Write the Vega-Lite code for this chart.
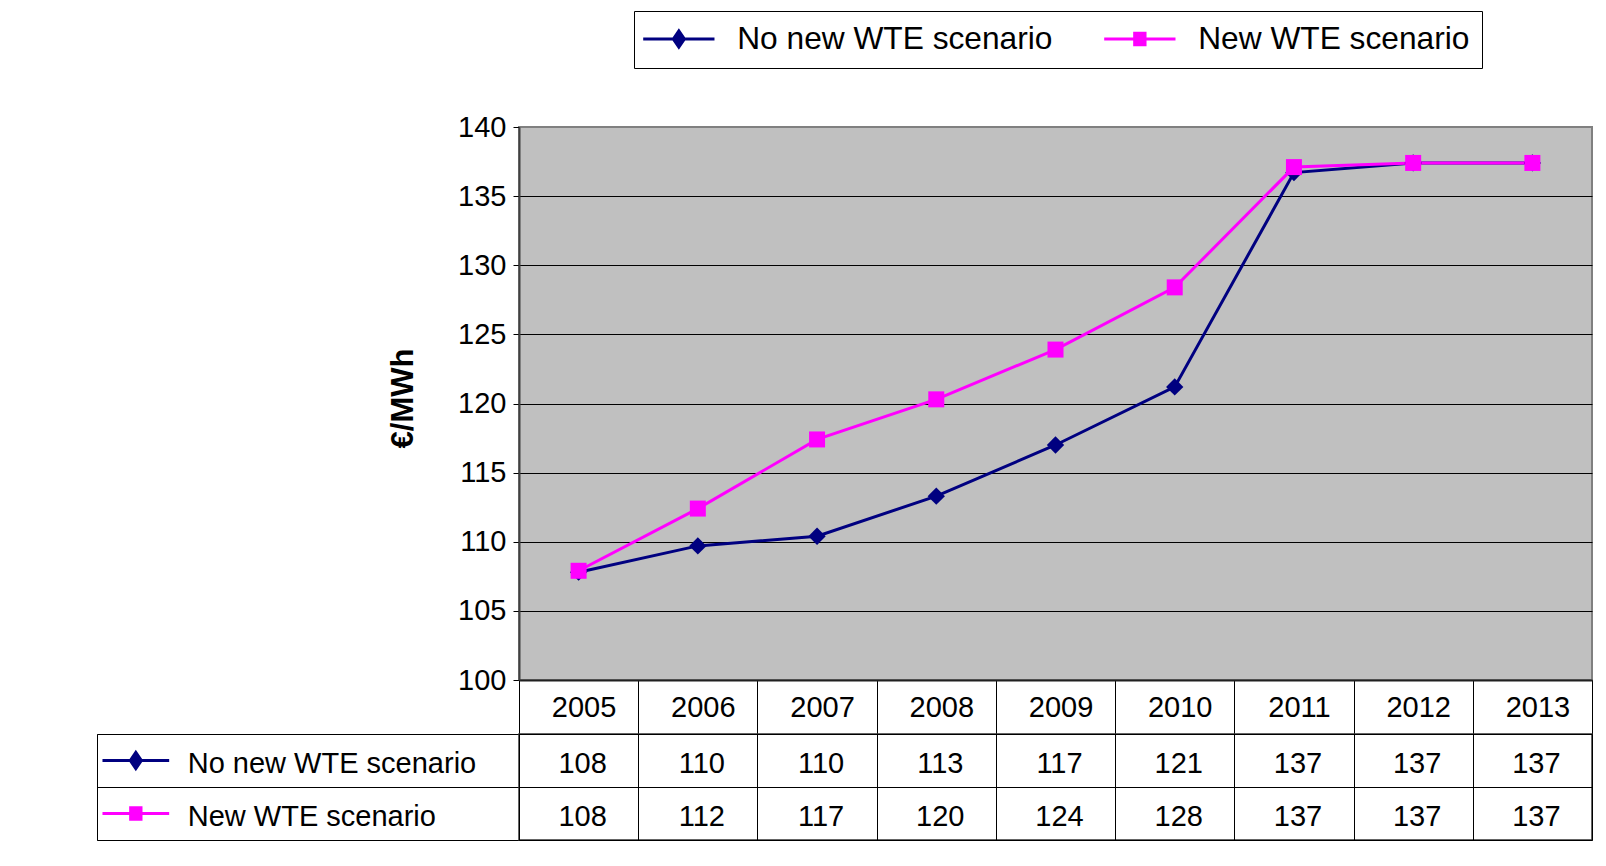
{
  "$schema": "https://vega.github.io/schema/vega-lite/v6.json",
  "background": "white",
  "padding": {"left": 95, "top": 9, "right": 0, "bottom": 0},
  "config": {"font": "Liberation Sans", "view": {"stroke": null}},
  "datasets": {
    "prices": [
      {"year": "2005", "series": "No new WTE scenario", "value": 107.8},
      {"year": "2006", "series": "No new WTE scenario", "value": 109.7},
      {"year": "2007", "series": "No new WTE scenario", "value": 110.4},
      {"year": "2008", "series": "No new WTE scenario", "value": 113.3},
      {"year": "2009", "series": "No new WTE scenario", "value": 117.0},
      {"year": "2010", "series": "No new WTE scenario", "value": 121.2},
      {"year": "2011", "series": "No new WTE scenario", "value": 136.7},
      {"year": "2012", "series": "No new WTE scenario", "value": 137.4},
      {"year": "2013", "series": "No new WTE scenario", "value": 137.4},
      {"year": "2005", "series": "New WTE scenario", "value": 107.9},
      {"year": "2006", "series": "New WTE scenario", "value": 112.4},
      {"year": "2007", "series": "New WTE scenario", "value": 117.4},
      {"year": "2008", "series": "New WTE scenario", "value": 120.3},
      {"year": "2009", "series": "New WTE scenario", "value": 123.9},
      {"year": "2010", "series": "New WTE scenario", "value": 128.4},
      {"year": "2011", "series": "New WTE scenario", "value": 137.1},
      {"year": "2012", "series": "New WTE scenario", "value": 137.4},
      {"year": "2013", "series": "New WTE scenario", "value": 137.4}
    ],
    "series": [
      {"series": "No new WTE scenario"},
      {"series": "New WTE scenario"}
    ]
  },
  "columns": 2,
  "bounds": "flush",
  "spacing": {"row": 54, "column": 0},
  "resolve": {"scale": {"color": "independent", "stroke": "independent", "shape": "independent"}},
  "concat": [
    {
      "width": 422,
      "height": 553,
      "data": {"values": []},
      "mark": "rule",
      "encoding": {}
    },
    {
      "width": 1073,
      "height": 553,
      "data": {"name": "prices"},
      "view": {"fill": "#C0C0C0", "stroke": "#808080", "strokeWidth": 2},
      "encoding": {
        "x": {
          "field": "year", "type": "ordinal",
          "scale": {"type": "band", "paddingInner": 0, "paddingOuter": 0},
          "axis": {
            "title": null, "orient": "bottom", "domain": true, "domainColor": "#202020", "domainWidth": 2,
            "ticks": true, "tickBand": "extent", "tickSize": 54, "tickColor": "#000000", "tickWidth": 1,
            "labelFontSize": 29, "labelColor": "#000000", "labelPadding": -41, "labelAngle": 0, "labelOffset": 5,
            "grid": false
          }
        },
        "y": {
          "field": "value", "type": "quantitative",
          "scale": {"domain": [100, 140], "nice": false, "zero": false},
          "axis": {
            "title": "€/MWh", "titleFontSize": 31, "titleFontWeight": "bold", "titleColor": "#000000", "titlePadding": 38, "titleY": 271,
            "values": [100, 105, 110, 115, 120, 125, 130, 135, 140],
            "grid": true,
            "gridColor": {"condition": {"test": "datum.value === 140", "value": "#808080"}, "value": "#000000"},
            "gridWidth": 1,
            "domain": true, "domainColor": "#404040", "domainWidth": 2,
            "ticks": true, "tickSize": 6, "tickColor": "#000000",
            "labelFontSize": 29, "labelColor": "#000000", "labelPadding": 7
          }
        }
      },
      "layer": [
        {
          "transform": [{"filter": "datum.series === 'No new WTE scenario'"}],
          "mark": {"type": "line", "strokeWidth": 3, "color": "#000080"}
        },
        {
          "transform": [{"filter": "datum.series === 'New WTE scenario'"}],
          "mark": {"type": "line", "strokeWidth": 3, "color": "#FF00FF"}
        },
        {
          "mark": {"type": "point", "filled": true, "opacity": 0, "strokeWidth": 3, "size": 529},
          "encoding": {
            "color": {
              "field": "series", "type": "nominal",
              "scale": {"domain": ["No new WTE scenario", "New WTE scenario"], "range": ["#000080", "#FF00FF"]},
              "legend": {"orient": "none", "legendX": 115, "legendY": -116, "direction": "horizontal", "title": null, "strokeColor": "#000000", "fillColor": "white", "padding": 12, "labelFontSize": 31.7, "labelColor": "#000000", "labelFont": "Liberation Sans", "labelLimit": 0, "labelOffset": 42.5, "columnPadding": 45, "symbolOffset": 17, "symbolSize": 529, "symbolStrokeWidth": 3, "symbolOpacity": 1, "cornerRadius": 0}
            },
            "stroke": {
              "field": "series", "type": "nominal",
              "scale": {"domain": ["No new WTE scenario", "New WTE scenario"], "range": ["#000080", "#FF00FF"]},
              "legend": {"orient": "none", "legendX": 115, "legendY": -116, "direction": "horizontal", "title": null, "strokeColor": "#000000", "fillColor": "white", "padding": 12, "labelFontSize": 31.7, "labelColor": "#000000", "labelFont": "Liberation Sans", "labelLimit": 0, "labelOffset": 42.5, "columnPadding": 45, "symbolOffset": 17, "symbolSize": 529, "symbolStrokeWidth": 3, "symbolOpacity": 1, "cornerRadius": 0}
            },
            "shape": {
              "field": "series", "type": "nominal",
              "scale": {"domain": ["No new WTE scenario", "New WTE scenario"], "range": ["M-3.1,0H3.1M-0.48,0L0,-0.7L0.48,0L0,0.7Z", "M-3.1,0H3.1M-0.45,-0.5H0.45V0.5H-0.45Z"]},
              "legend": {"orient": "none", "legendX": 115, "legendY": -116, "direction": "horizontal", "title": null, "strokeColor": "#000000", "fillColor": "white", "padding": 12, "labelFontSize": 31.7, "labelColor": "#000000", "labelFont": "Liberation Sans", "labelLimit": 0, "labelOffset": 42.5, "columnPadding": 45, "symbolOffset": 17, "symbolSize": 529, "symbolStrokeWidth": 3, "symbolOpacity": 1, "cornerRadius": 0}
            }
          }
        },
        {
          "transform": [{"filter": "datum.series === 'No new WTE scenario'"}],
          "mark": {"type": "point", "filled": true, "shape": "diamond", "size": 300, "color": "#000080", "opacity": 1}
        },
        {
          "transform": [{"filter": "datum.series === 'New WTE scenario'"}],
          "mark": {"type": "point", "filled": true, "shape": "square", "size": 256, "color": "#FF00FF", "opacity": 1}
        }
      ]
    },
    {
      "width": 422,
      "height": 106,
      "data": {"name": "series"},
      "view": {"stroke": "#000000", "strokeWidth": 1},
      "encoding": {
        "y": {
          "field": "series", "type": "nominal",
          "scale": {"type": "band", "domain": ["No new WTE scenario", "New WTE scenario"], "paddingInner": 0, "paddingOuter": 0},
          "axis": {"title": null, "labels": false, "ticks": false, "domain": false, "grid": true, "gridColor": "#000000", "tickBand": "extent"}
        }
      },
      "layer": [
        {
          "mark": {"type": "point", "filled": true, "opacity": 1, "size": 529, "strokeWidth": 3},
          "encoding": {
            "x": {"datum": 9.2, "type": "quantitative", "scale": {"domain": [0, 100], "nice": false, "zero": false}, "axis": null},
            "color": {
              "field": "series", "type": "nominal",
              "scale": {"domain": ["No new WTE scenario", "New WTE scenario"], "range": ["#000080", "#FF00FF"]},
              "legend": null
            },
            "stroke": {
              "field": "series", "type": "nominal",
              "scale": {"domain": ["No new WTE scenario", "New WTE scenario"], "range": ["#000080", "#FF00FF"]},
              "legend": null
            },
            "shape": {
              "field": "series", "type": "nominal",
              "scale": {"domain": ["No new WTE scenario", "New WTE scenario"], "range": ["M-2.9,0H2.9M-0.48,0L0,-0.7L0.48,0L0,0.7Z", "M-2.9,0H2.9M-0.45,-0.5H0.45V0.5H-0.45Z"]},
              "legend": null
            }
          }
        },
        {
          "mark": {"type": "text", "align": "left", "baseline": "middle", "fontSize": 29, "color": "#000000", "dy": 3},
          "encoding": {
            "x": {"datum": 21.5, "type": "quantitative", "axis": null},
            "text": {"field": "series", "type": "nominal"}
          }
        }
      ]
    },
    {
      "width": 1073,
      "height": 106,
      "data": {"name": "prices"},
      "view": {"stroke": "#333333", "strokeWidth": 1.5},
      "mark": {"type": "text", "fontSize": 29, "color": "#000000", "dx": 4, "dy": 3},
      "encoding": {
        "x": {
          "field": "year", "type": "ordinal",
          "scale": {"type": "band", "paddingInner": 0, "paddingOuter": 0},
          "axis": {"title": null, "labels": false, "ticks": false, "domain": false, "grid": true, "gridColor": "#000000", "tickBand": "extent"}
        },
        "y": {
          "field": "series", "type": "nominal",
          "scale": {"type": "band", "domain": ["No new WTE scenario", "New WTE scenario"], "paddingInner": 0, "paddingOuter": 0},
          "axis": {"title": null, "labels": false, "ticks": false, "domain": false, "grid": true, "gridColor": "#000000", "tickBand": "extent"}
        },
        "text": {"field": "value", "type": "quantitative", "format": ".0f"}
      }
    }
  ]
}
